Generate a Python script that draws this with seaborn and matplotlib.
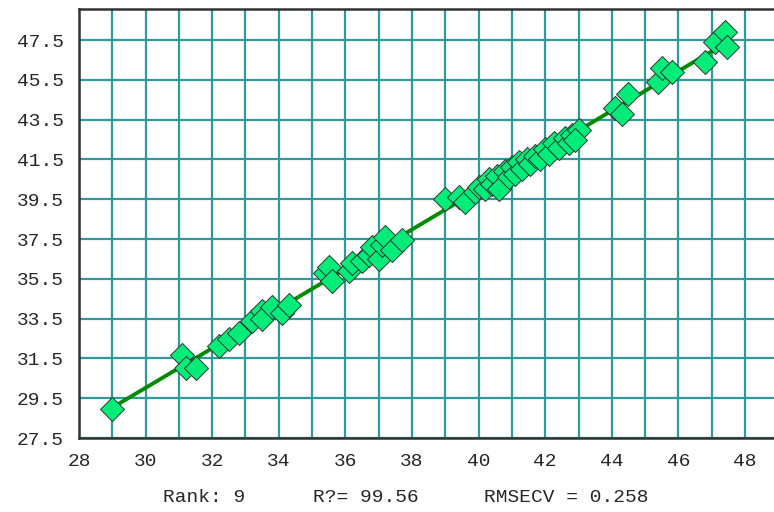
import numpy as np
import pandas as pd
import seaborn as sns
import matplotlib
matplotlib.use("Agg")
import matplotlib.pyplot as plt
from matplotlib.ticker import MultipleLocator

# measured vs predicted values
measured = [29.0, 31.1, 31.2, 31.5, 32.2, 32.5, 32.8, 33.2, 33.5, 33.5, 33.8, 34.1, 34.3,
            35.4, 35.5, 35.6, 36.1, 36.2, 36.5, 36.7, 36.8, 37.0, 37.1, 37.2, 37.4, 37.7,
            39.0, 39.4, 39.6, 39.9, 40.0, 40.2, 40.3, 40.4, 40.55, 40.6, 40.8, 40.9, 41.0,
            41.1, 41.2, 41.3, 41.45, 41.55, 41.7, 41.85, 42.0, 42.1, 42.25, 42.4, 42.6,
            42.7, 42.8, 43.0, 42.9, 44.1, 44.3, 44.5, 45.4, 45.5, 45.8, 46.8, 47.1, 47.4, 47.45]
predicted = [28.95, 31.67, 31.0, 31.0, 32.1, 32.5, 32.8, 33.4, 33.9, 33.5, 34.1, 33.8, 34.2,
             35.8, 36.1, 35.4, 35.9, 36.3, 36.4, 36.7, 37.1, 36.5, 37.2, 37.6, 36.95, 37.45,
             39.5, 39.6, 39.35, 39.85, 40.1, 40.0, 40.5, 40.25, 40.65, 40.0, 40.9, 40.6, 41.1,
             40.75, 41.35, 41.0, 41.5, 41.25, 41.65, 41.5, 42.0, 41.75, 42.35, 42.1, 42.6,
             42.35, 42.75, 43.0, 42.5, 44.1, 43.8, 44.8, 45.4, 46.1, 45.9, 46.4, 47.4, 47.9, 47.15]

stats_text = ["Rank: 9", "R?= 99.56", "RMSECV = 0.258"]

df = pd.DataFrame({"measured": measured, "predicted": predicted})

sns.set_style("white")
plt.rcParams['font.family'] = ['Liberation Mono', 'DejaVu Sans Mono']

fig = plt.figure(figsize=(7.74, 5.12), dpi=100)
ax = fig.add_axes([0.102, 0.1445, 0.898, 0.8375])

grid_c = "#2e9a9a"
sns.regplot(data=df, x="measured", y="predicted", scatter=False, ci=None,
            color="#008a00", line_kws={"linewidth": 2.8, "zorder": 3}, ax=ax)
sns.scatterplot(data=df, x="measured", y="predicted", marker="D", s=150,
                color="#00ec78", edgecolor="#333333", linewidth=0.7, zorder=4, ax=ax)

ax.set_xlim(28, 48.87)
ax.set_ylim(27.5, 49.05)
ax.xaxis.set_major_locator(MultipleLocator(2))
ax.xaxis.set_minor_locator(MultipleLocator(1))
ax.set_yticks(np.arange(27.5, 48, 2))
ax.set_yticklabels([f"{v:.1f}" for v in np.arange(27.5, 48, 2)])
ax.grid(True, which="both", axis="x", color=grid_c, linewidth=1.6)
ax.grid(True, which="major", axis="y", color=grid_c, linewidth=1.6)
ax.set_axisbelow(True)
ax.tick_params(axis="both", which="both", direction="out", length=7, width=1.3,
               color="#222222", labelsize=14, pad=4)
ax.tick_params(axis="x", which="minor", labelbottom=False)
ax.set_xlabel("")
ax.set_ylabel("")

for side in ["left", "bottom", "top"]:
    ax.spines[side].set_color("#333333")
    ax.spines[side].set_linewidth(1.8)
ax.spines["right"].set_visible(False)

fig.text(163 / 774, 1 - 497 / 512, stats_text[0], fontsize=14, va="center")
fig.text(313 / 774, 1 - 497 / 512, stats_text[1], fontsize=14, va="center")
fig.text(484 / 774, 1 - 497 / 512, stats_text[2], fontsize=14, va="center")

fig.savefig("out.png", dpi=100)
